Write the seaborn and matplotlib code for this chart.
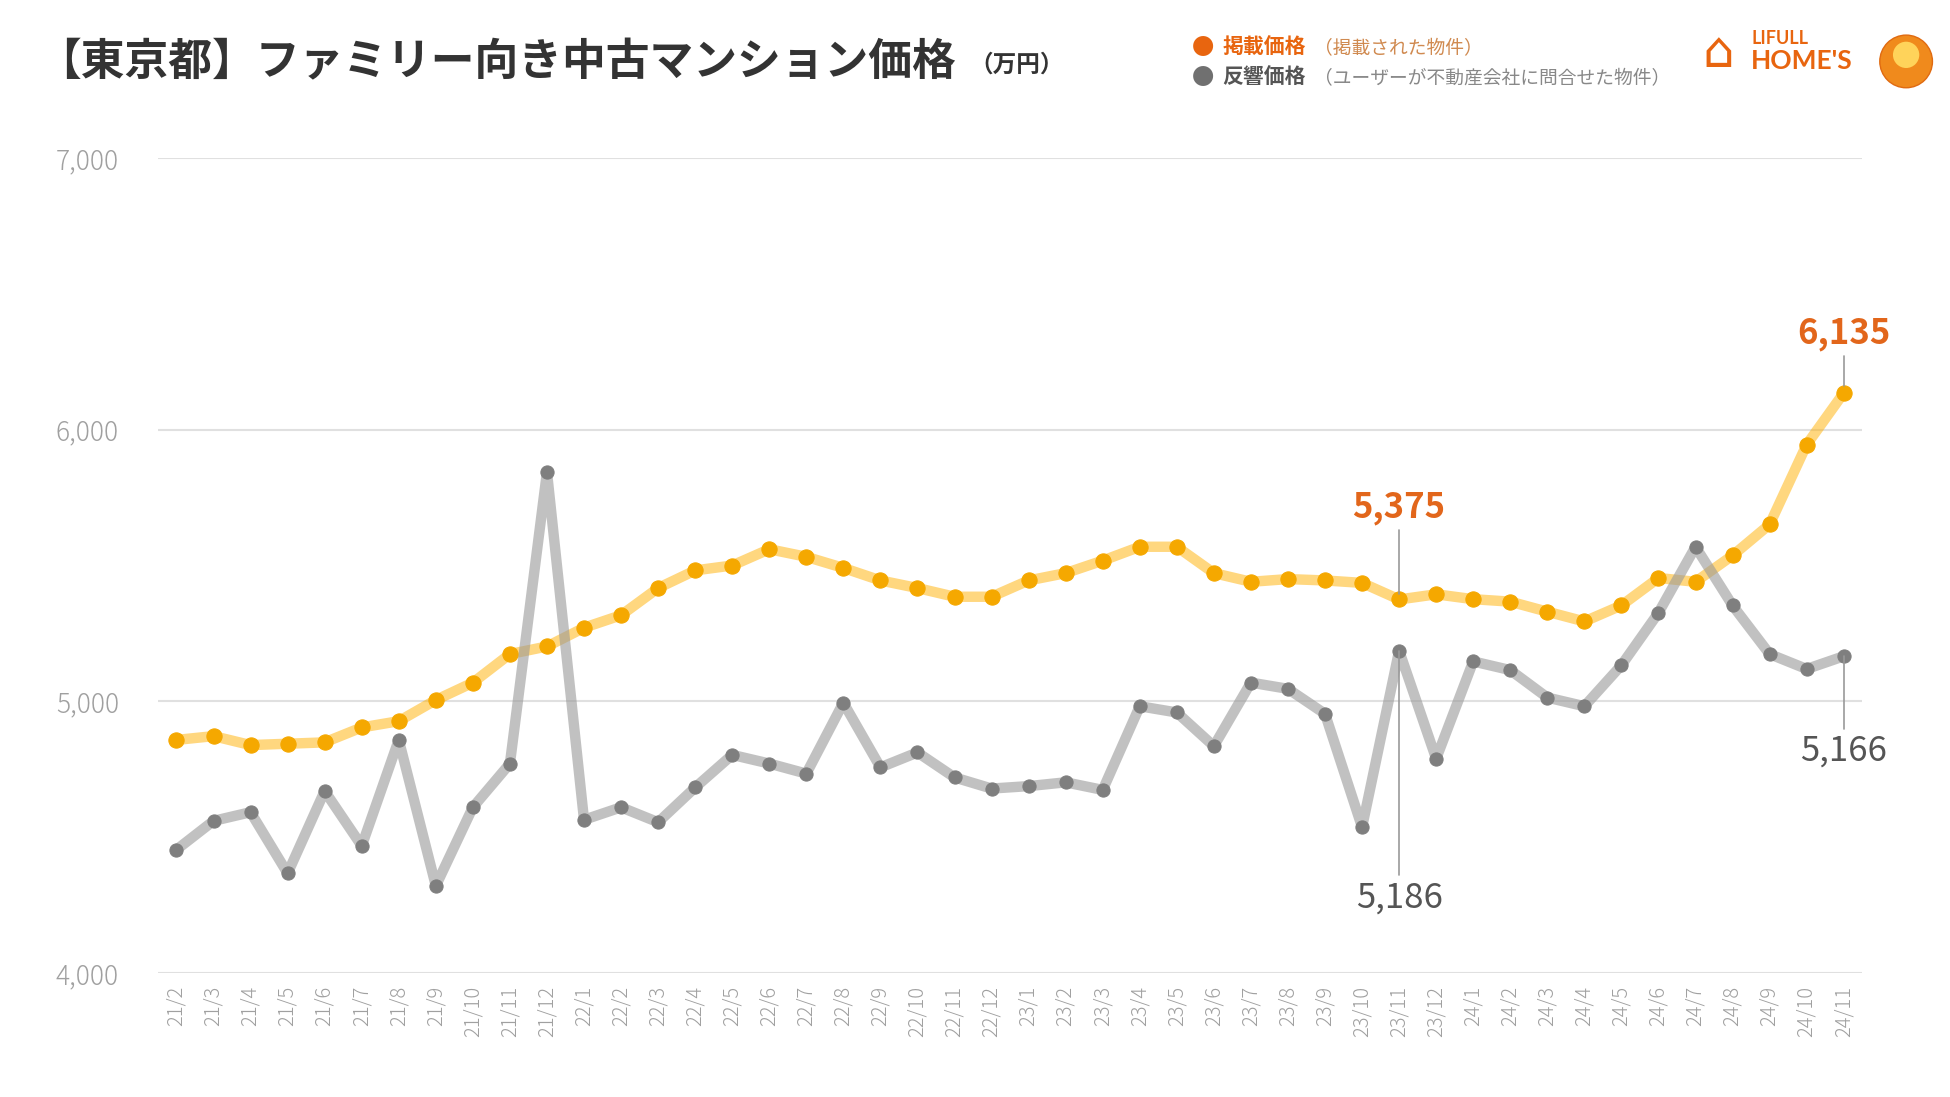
import matplotlib
matplotlib.use("Agg")
import matplotlib.pyplot as plt
import seaborn as sns
import pandas as pd
from matplotlib.patches import Ellipse

# data (万円)
months = ["21/2", "21/3", "21/4", "21/5", "21/6", "21/7", "21/8", "21/9", "21/10", "21/11", "21/12",
          "22/1", "22/2", "22/3", "22/4", "22/5", "22/6", "22/7", "22/8", "22/9", "22/10", "22/11", "22/12",
          "23/1", "23/2", "23/3", "23/4", "23/5", "23/6", "23/7", "23/8", "23/9", "23/10", "23/11", "23/12",
          "24/1", "24/2", "24/3", "24/4", "24/5", "24/6", "24/7", "24/8", "24/9", "24/10", "24/11"]

listed_price = [4858, 4872, 4839, 4844, 4849, 4904, 4927, 5005, 5069, 5174, 5202,
                5271, 5317, 5417, 5482, 5500, 5560, 5532, 5491, 5445, 5417, 5385, 5385,
                5445, 5472, 5518, 5569, 5569, 5472, 5440, 5450, 5445, 5436, 5375, 5394,
                5376, 5367, 5330, 5294, 5353, 5454, 5440, 5537, 5651, 5945, 6135]

inquiry_price = [4454, 4560, 4592, 4367, 4670, 4468, 4858, 4321, 4610, 4771, 5844,
                 4564, 4610, 4555, 4683, 4803, 4771, 4734, 4995, 4757, 4812, 4720, 4679,
                 4688, 4702, 4674, 4982, 4959, 4835, 5069, 5046, 4954, 4537, 5186, 4789,
                 5147, 5115, 5014, 4982, 5133, 5326, 5569, 5353, 5174, 5119, 5166]

y_ticks = [4000, 5000, 6000, 7000]

ORANGE_TXT = "#E2661B"
GRAY_TXT = "#555555"

df = pd.DataFrame({"idx": range(len(months)), "month": months,
                   "listed": listed_price, "inquiry": inquiry_price})

sns.set_style("white")
plt.rcParams['font.family'] = ['Noto Sans CJK JP', 'DejaVu Sans']

fig = plt.figure(figsize=(19.5, 10.97), dpi=100)
ax = fig.add_axes([0.081, 0.113, 0.874, 0.743])

sns.lineplot(data=df, x="idx", y="listed", ax=ax, color=(1.0, 0.69, 0.0), alpha=0.5,
             linewidth=7.5, zorder=2)
sns.lineplot(data=df, x="idx", y="listed", ax=ax, linestyle="none", marker="o",
             markersize=11, markerfacecolor="#F5A800", markeredgecolor="#F5A800", zorder=3)
sns.lineplot(data=df, x="idx", y="inquiry", ax=ax, color=(0.6, 0.6, 0.6), alpha=0.6,
             linewidth=7.5, zorder=4)
sns.lineplot(data=df, x="idx", y="inquiry", ax=ax, linestyle="none", marker="o",
             markersize=9.5, markerfacecolor="#7f7f7f", markeredgecolor="#7f7f7f", zorder=5)

ax.set_xlim(-0.5, len(months) - 0.5)
ax.set_ylim(4000, 7000)
ax.set_yticks(y_ticks)
ax.set_yticklabels([f"{v:,}" for v in y_ticks], fontsize=19, color="#a0a0a0", fontweight="light")
ax.set_xticks(range(len(months)))
ax.set_xticklabels(months, rotation=90, fontsize=14.5, color="#a0a0a0", fontweight="light")
ax.tick_params(axis="y", length=0, pad=28)
ax.tick_params(axis="x", length=0, pad=9)
ax.set_xlabel("")
ax.set_ylabel("")
ax.grid(axis="y", color="#e0e0e0", linewidth=1.5)
ax.set_axisbelow(True)
sns.despine(ax=ax, left=True, bottom=True, top=True, right=True)

# annotations
i1 = months.index("23/11")
iL = len(months) - 1
ax.plot([i1, i1], [listed_price[i1] + 20, 5630], color="#999999", lw=1.2, zorder=6)
ax.text(i1, 5650, f"{listed_price[i1]:,}", color=ORANGE_TXT, fontsize=25, fontweight="bold",
        ha="center", va="bottom")
ax.plot([iL, iL], [listed_price[iL] + 25, 6270], color="#999999", lw=1.2, zorder=6)
ax.text(iL, 6290, f"{listed_price[iL]:,}", color=ORANGE_TXT, fontsize=25, fontweight="bold",
        ha="center", va="bottom")
ax.plot([i1, i1], [inquiry_price[i1], 4360], color="#999999", lw=1.2, zorder=6)
ax.text(i1, 4340, f"{inquiry_price[i1]:,}", color=GRAY_TXT, fontsize=25,
        ha="center", va="top")
ax.plot([iL, iL], [inquiry_price[iL], 4900], color="#999999", lw=1.2, zorder=6)
ax.text(iL, 4880, f"{inquiry_price[iL]:,}", color=GRAY_TXT, fontsize=25,
        ha="center", va="top")

# title
fig.text(0.019, 0.943, "【東京都】ファミリー向き中古マンション価格", fontsize=31.5, fontweight="bold",
         color="#333333", ha="left", va="center")
fig.text(0.497, 0.941, "（万円）", fontsize=17, fontweight="bold", color="#333333",
         ha="left", va="center")

# legend
fig.text(0.617, 0.957, "●", fontsize=16, color="#E8650F", ha="center", va="center")
fig.text(0.627, 0.957, "掲載価格", fontsize=15, fontweight="bold", color="#E8650F",
         ha="left", va="center")
fig.text(0.674, 0.956, "（掲載された物件）", fontsize=13.5, color="#D08A50",
         ha="left", va="center")
fig.text(0.617, 0.929, "●", fontsize=16, color="#707070", ha="center", va="center")
fig.text(0.627, 0.929, "反響価格", fontsize=15, fontweight="bold", color="#555555",
         ha="left", va="center")
fig.text(0.674, 0.928, "（ユーザーが不動産会社に問合せた物件）", fontsize=13.5, color="#888888",
         ha="left", va="center")

# logo
fig.text(0.881, 0.952, "⌂", fontsize=36, color="#E8650F", ha="center", va="center",
         family=["DejaVu Sans"])
fig.text(0.898, 0.965, "LIFULL", fontsize=13, fontweight="bold", color="#E8650F",
         ha="left", va="center", family=["Lato", "DejaVu Sans"])
fig.text(0.898, 0.944, "HOME'S", fontsize=19, fontweight="bold", color="#E8650F",
         ha="left", va="center", family=["Lato", "DejaVu Sans"])
r = 0.0135
fig.patches.append(Ellipse((0.9775, 0.944), 2 * r, 2 * r * 1950 / 1097, transform=fig.transFigure,
                           facecolor="#F08A1C", edgecolor="#E06A10", figure=fig))
fig.patches.append(Ellipse((0.9775, 0.950), r, r * 1950 / 1097, transform=fig.transFigure,
                           facecolor="#FFD35A", edgecolor="none", figure=fig))

fig.savefig("out.png", dpi=100, facecolor="white")
